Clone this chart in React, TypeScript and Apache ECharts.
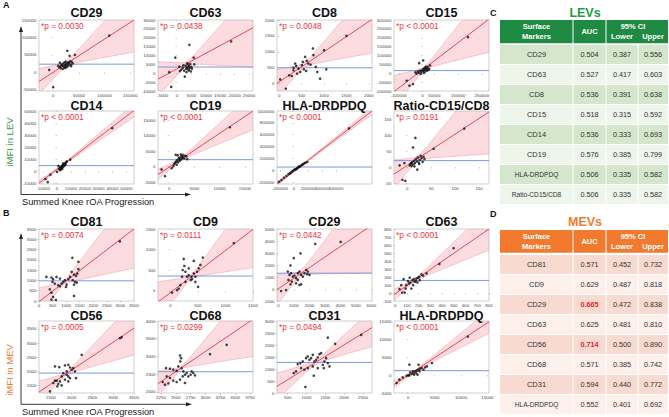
import { useEffect, useRef } from "react";
import * as echarts from "echarts";

const FONT = "'Liberation Sans', Arial, Helvetica, sans-serif";

// ---------- chart texts ----------
const chartTitles = ["CD29", "CD63", "CD8", "CD15", "CD14", "CD19", "HLA-DRDPDQ", "Ratio-CD15/CD8",
  "CD81", "CD9", "CD29", "CD63", "CD56", "CD68", "CD31", "HLA-DRDPDQ"];
const pLabels = ["*p = 0.0030", "*p = 0.0438", "*p = 0.0048", "*p < 0.0001", "*p < 0.0001", "*p < 0.0001", "*p < 0.0001", "*p = 0.0191",
  "*p = 0.0074", "*p = 0.0111", "*p = 0.0442", "*p < 0.0001", "*p = 0.0005", "*p = 0.0299", "*p = 0.0494", "*p < 0.0001"];

// ---------- axes ----------
const xRanges = [[-27500, 157000], [-6600, 26400], [-50, 2070], [-120000, 280000], [-13000, 55500], [-2200, 16600], [-243000, 1114000], [-27.7, 170.7],
  [0, 3500], [-225, 1500], [-90, 6040], [-10, 800], [1219, 3500], [2200, 3800], [216, 2740], [-2700, 15300]];
const yRanges = [[-52900, 150000], [-10000, 30000], [-230, 2000], [-100000, 300000], [-10500, 50000], [-5600, 17900], [-230000, 1000000], [-53, 175],
  [0, 3500], [-245, 1500], [-1000, 5000], [-100, 800], [1230, 3780], [1970, 4000], [0, 3000], [-5000, 15000]];
const xTickVals = [
  [0, 50000, 100000, 150000], [-5000, 0, 5000, 10000, 15000, 20000, 25000], [0, 500, 1000, 1500, 2000], [-100000, 0, 50000, 150000, 250000],
  [-10000, 0, 10000, 20000, 30000, 40000, 50000], [0, 5000, 10000, 15000], [-200000, 0, 200000, 400000, 600000, 800000], [0, 50, 100, 150],
  [0, 500, 1000, 1500, 2000, 2500, 3000, 3500], [0, 500, 1000, 1500], [0, 1000, 2000, 3000, 4000, 5000, 6000], [0, 100, 200, 300, 400, 500, 600, 700, 800],
  [1500, 2000, 2500, 3000, 3500], [2250, 2500, 2750, 3000, 3250, 3500, 3750], [500, 1000, 1500, 2000, 2500], [0, 5000, 10000, 15000]];
const yTickVals = [
  [-50000, 0, 50000, 100000, 150000], [-10000, -5000, 0, 5000, 10000, 15000, 20000, 25000, 30000], [0, 500, 1000, 1500, 2000],
  [-100000, -50000, 0, 50000, 100000, 150000, 200000, 250000, 300000], [-10000, 0, 10000, 20000, 30000, 40000, 50000], [-5000, 0, 5000, 10000, 15000],
  [-200000, 0, 200000, 400000, 600000, 800000, 1000000], [-50, 0, 50, 100, 150],
  [0, 500, 1000, 1500, 2000, 2500, 3000, 3500], [0, 500, 1000, 1500], [-1000, 0, 1000, 2000, 3000, 4000, 5000], [-100, 0, 100, 200, 300, 400, 500, 600, 700, 800],
  [1500, 2000, 2500, 3000, 3500], [2000, 2500, 3000, 3500, 4000], [0, 500, 1000, 1500, 2000, 2500, 3000], [-5000, 0, 5000, 10000, 15000]];

// ---------- fits: regression line end points, mean level, confidence band [centre x, min half width, growth] ----------
const fitLines = [[-27500, -25700, 157000, 150000], [-6600, -3300, 26400, 25600], [-50, 10, 2070, 2020], [-120000, -103000, 280000, 305000],
  [-13000, -9700, 55500, 50500], [-2200, -2550, 16600, 17870], [-243000, -235000, 1114000, 1000000], [-27.7, -22, 170.7, 172],
  [0, -30, 3500, 3500], [-225, -270, 1500, 1490], [-90, -50, 6040, 5330], [-10, -19, 800, 800],
  [1219, 1265, 3500, 3524], [2200, 2234, 3800, 4050], [216, 280, 2740, 2725], [-2700, -2670, 15300, 14800]];
const meanLevels = [23800, 3500, 500, 15000, 4700, 2230, 56000, 20, 980, 360, 1320, 157, 1935, 2570, 1274, 1200];
const bandParams = [[25000, 8000, 0.69], [3500, 1000, 0.97], [560, 80, 0.7], [10000, 10000, 0.69], [4000, 800, 0.107], [2000, 400, 0.41],
  [50000, 10000, 0.056], [22, 8, 0.88], [900, 90, 0.73], [370, 40, 0.82], [1400, 250, 0.86], [160, 15, 0.41],
  [1870, 50, 0.58], [2600, 40, 0.875], [1250, 90, 0.53], [1200, 200, 0.227]];

// ---------- scatter points ----------
const levCD29 = [[109000, 105700], [27500, 62000], [32000, 47600], [42300, 50500], [-7700, 7600], [0, -42000], [9600, 19000], [12000, 15000], [15000, 12000], [17000, 20000], [18000, 24000], [20000, 18000], [21000, 28000], [22000, 15000], [23000, 22000], [24000, 31000], [25000, 19000], [26000, 26000], [27000, 16000], [28000, 23000], [29000, 29000], [30000, 20000], [31000, 27000], [33000, 32000], [34000, 22000], [35000, 18000], [19000, 10000], [23500, 13000], [36000, 30000], [38000, 26000], [16000, 22000], [14000, 17000], [13000, 28000]];
const levCD63 = [[18800, 17900], [4300, 16000], [-580, 8800], [5800, 8800], [-2700, 600], [-2000, -7700], [2700, -1900], [1500, 2000], [2000, 3000], [2500, 1500], [3000, 4000], [3200, 2500], [3500, 3000], [3700, 5000], [3900, 3500], [4000, 2000], [4200, 4200], [4400, 3000], [4600, 5200], [4800, 1000], [5000, 3600], [5200, 2600], [2200, 4500], [1000, 1200], [3300, 600], [4100, 1600], [3600, 5600], [6000, 5000], [800, 3800]];
const levCD8 = [[1500, 1500], [22, 137], [148, -158], [318, 421], [356, 632], [430, 474], [467, 368], [504, 579], [526, 684], [578, 842], [615, 716], [650, 632], [752, 1105], [763, 895], [815, 526], [850, 368], [911, 158], [222, 263], [280, 240], [400, 316], [320, 500], [380, 560], [550, 450], [700, 600], [600, 400], [1000, 1050], [1050, 450]];
const levCD15 = [[191700, 203400], [-14000, 57000], [3000, 72000], [-66500, -42000], [-55000, -70000], [-40000, -61000], [32000, 44000], [-30000, 5000], [-25000, -2000], [-20000, 10000], [-15000, 3000], [-10000, 15000], [-5000, 8000], [0, 20000], [2000, 12000], [5000, 25000], [8000, 18000], [10000, 30000], [12000, 10000], [15000, 22000], [18000, 28000], [20000, 15000], [22000, 35000], [25000, 20000], [28000, 25000], [-8000, -4000], [6000, 2000], [14000, 38000]];
const levCD14 = [[39800, 35800], [-8300, -6400], [-4800, -2800], [-6700, -8900], [6000, 6900], [9500, 9700], [7100, 8300], [1500, 2000], [2000, 1000], [2500, 3000], [3000, 2500], [3300, 4000], [3600, 3500], [4000, 5000], [4200, 4300], [4500, 3800], [4800, 5200], [5000, 6000], [5500, 5500], [6200, 5800], [3000, 1500], [2200, 2800], [3800, 2200], [4400, 6500], [5300, 4600], [1000, 4500], [0, -500], [6500, 7500]];
const levCD19 = [[12040, 12660], [850, 100], [1000, 800], [1200, 1300], [1400, 1700], [1500, 600], [1600, 2100], [1800, 1400], [2000, 2500], [2100, 1900], [2200, 3000], [2400, 2300], [2500, 3400], [2600, 2800], [2800, 3100], [3000, 2600], [3200, 3500], [3400, 3300], [1300, 3800], [1700, 3600], [2300, 3900], [-800, -3100], [-1500, -900], [500, -500], [3600, 2400], [1900, 2700], [2700, 3800]];
const levHLA = [[785700, 706000], [-216000, -190000], [-180000, -160000], [-145000, -123000], [-110000, -95000], [-80000, -62000], [-50000, -39000], [-20000, -10000], [0, 5000], [21000, 17000], [40000, 30000], [60000, 50000], [80000, 62000], [93000, 73000], [110000, 90000], [130000, 105000], [150000, 120000], [164000, 129000], [-30000, -25000], [10000, 15000], [50000, 40000], [70000, 65000], [120000, 95000], [30000, 20000], [-60000, -55000], [190000, 140000]];
const levRatio = [[119, 120], [55, 57], [17, 91], [12, 61], [-16, 5], [-10, -40], [-4, -43], [21, -8], [5, 5], [7, 10], [9, 3], [10, 15], [12, 8], [14, 20], [16, 12], [18, 25], [20, 18], [22, 30], [24, 14], [26, 22], [28, 35], [30, 28], [32, 16], [34, 32], [36, 25], [15, 2], [8, 12], [25, 10], [-6, 12]];
const mevCD81 = [[2979, 2898], [1229, 2100], [1452, 1905], [1452, 1547], [1291, 244], [273, 1172], [459, 65], [459, 1140], [521, 1058], [496, 928], [583, 847], [707, 765], [770, 716], [832, 847], [894, 928], [956, 1009], [1080, 1058], [1142, 1172], [1204, 1416], [1291, 1286], [1365, 1221], [1415, 1335], [1291, 798], [1390, 895], [397, 570], [459, 407], [521, 195], [621, 49], [993, 684], [1241, 1009], [1328, 928], [645, 1172], [770, 1091], [1018, 798]];
const mevCD9 = [[1151, 1158], [242, 775], [254, 604], [224, 506], [273, 465], [333, 383], [382, 343], [424, 424], [454, 343], [485, 465], [515, 547], [545, 628], [588, 808], [424, 726], [369, 261], [273, 220], [182, 139], [121, 16], [151, 57], [30, -41], [503, 98], [303, 343], [394, 285], [212, 343], [454, 220], [333, 547]];
const mevCD29 = [[4017, 3922], [2376, 3754], [1425, 2969], [994, 2577], [778, 1961], [605, 1457], [713, 1176], [821, 1317], [929, 1036], [1037, 1120], [1145, 896], [1253, 1317], [1361, 1457], [1469, 1176], [1577, 1036], [1685, 1317], [1793, 1597], [1901, 1457], [2009, 1176], [1857, 1232], [648, 756], [778, 392], [1145, 476], [1361, 336], [1469, 392], [173, -168], [497, -84], [864, 616], [1253, 756]];
const mevCD63 = [[498, 560], [377, 363], [37, 48], [60, 6], [81, 6], [72, 174], [118, 119], [153, 98], [167, 140], [181, 182], [196, 191], [224, 233], [210, 161], [138, 56], [147, 161], [95, 98], [109, 149], [129, 132], [158, 174], [176, 149], [190, 132], [204, 203], [239, 216], [89, 56], [52, 98], [124, 191], [268, 245]];
const mevCD56 = [[3164, 3170], [3204, 3206], [2244, 2582], [1603, 2170], [1707, 2147], [1843, 2206], [1923, 2230], [1963, 2135], [1884, 1994], [2004, 2053], [2043, 2112], [2083, 1994], [2107, 1759], [1884, 1876], [1923, 1818], [1963, 1759], [1843, 1700], [1923, 1641], [1723, 1641], [1683, 1547], [1643, 1665], [1603, 1665], [1563, 1582], [1763, 1500], [1483, 1288], [1803, 1935], [1763, 1818], [1659, 1465]];
const mevCD68 = [[3076, 3065], [3357, 3327], [2571, 3028], [2587, 2953], [2576, 2860], [2542, 2720], [2599, 2673], [2335, 2673], [2402, 2654], [2458, 2626], [2514, 2598], [2627, 2579], [2683, 2533], [2767, 2579], [2711, 2439], [2655, 2486], [2750, 2486], [2795, 2533], [2346, 2439], [2402, 2393], [2458, 2318], [2514, 2280], [2279, 2280], [2318, 2206], [2374, 2243], [2571, 2346], [2616, 2439], [2655, 2252], [2823, 2467]];
const mevCD31 = [[2454, 2420], [1761, 2047], [1566, 2309], [971, 251], [1193, 721], [766, 1204], [837, 1246], [900, 1315], [988, 1453], [1033, 1522], [1077, 1384], [1122, 1453], [1166, 1591], [1210, 1315], [1255, 1384], [1299, 1481], [1344, 1619], [1388, 1660], [1432, 1177], [1477, 1315], [1521, 1453], [1566, 1246], [1610, 1108], [1459, 1039], [1299, 1039], [1166, 1108], [1033, 1039], [944, 970], [855, 1039], [722, 900], [660, 832]];
const mevHLA = [[11306, 10691], [4490, 3318], [1943, 2857], [-2197, -2212], [-1688, -1290], [-1051, -645], [-287, -184], [223, -92], [669, 276], [987, 553], [1306, 1014], [1624, 1198], [1943, 1475], [2261, 1751], [2580, 1935], [2898, 1475], [3217, 2120], [3535, 2396], [860, 1014], [1115, 92], [1497, 553], [1752, 92], [2134, 1014], [350, 737], [32, -92], [223, 2857]];
const pointSets = [levCD29, levCD63, levCD8, levCD15, levCD14, levCD19, levHLA, levRatio,
  mevCD81, mevCD9, mevCD29, mevCD63, mevCD56, mevCD68, mevCD31, mevHLA];

// ---------- tables ----------
const levMarkers = ["CD29", "CD63", "CD8", "CD15", "CD14", "CD19", "HLA-DRDPDQ", "Ratio-CD15/CD8"];
const levAUC = ["0.504", "0.527", "0.536", "0.518", "0.536", "0.576", "0.506", "0.506"];
const levLower = ["0.387", "0.417", "0.391", "0.315", "0.333", "0.385", "0.335", "0.335"];
const levUpper = ["0.556", "0.603", "0.638", "0.592", "0.693", "0.799", "0.582", "0.582"];
const mevMarkers = ["CD81", "CD9", "CD29", "CD63", "CD56", "CD68", "CD31", "HLA-DRDPDQ"];
const mevAUC = ["0.571", "0.629", "0.665", "0.625", "0.714", "0.571", "0.594", "0.552"];
const mevLower = ["0.452", "0.487", "0.472", "0.481", "0.500", "0.385", "0.440", "0.401"];
const mevUpper = ["0.732", "0.818", "0.838", "0.810", "0.890", "0.742", "0.772", "0.692"];
const mevHighlight = ["0.665", "0.714"];

function txt(x: number, y: number, text: string, font: string, fill: string, align = "center", extra: any = {}) {
  return {
    type: "text", x, y, z: 100, silent: true, ...extra,
    style: { text, font, fill, align, verticalAlign: "middle", textAlign: align, textVerticalAlign: "middle" },
  };
}

const plainNumber = (v: number) => String(Math.round(v * 1000) / 1000);

function buildOption() {
  const gridLefts = [39, 158, 277, 394];
  const gridTops = [20, 111, 229, 321];
  const gridHeights = [71, 73, 72, 72];
  const titleYs = [12.7, 105.5, 222.3, 315.7];
  const gridW = 95;
  const grid: any[] = [], xAxis: any[] = [], yAxis: any[] = [], series: any[] = [], graphic: any[] = [];

  for (let i = 0; i < 16; i++) {
    const row = Math.floor(i / 4), col = i % 4;
    const left = gridLefts[col], top = gridTops[row], h = gridHeights[row];
    grid.push({ left, top, width: gridW, height: h, show: true, borderColor: "#bcbcbc", borderWidth: 0.7, backgroundColor: "#ffffff" });
    const [xmin, xmax] = xRanges[i];
    const [ymin, ymax] = yRanges[i];
    const axisCommon = {
      type: "value", gridIndex: i,
      axisLine: { show: false }, splitLine: { show: false },
    };
    xAxis.push({
      ...axisCommon, min: xmin, max: xmax,
      axisTick: { show: true, customValues: xTickVals[i], length: 1.5, lineStyle: { color: "#999", width: 0.5 } },
      axisLabel: { customValues: xTickVals[i], fontSize: 4.4, color: "#444", margin: 2.5, fontFamily: FONT, formatter: plainNumber },
    });
    yAxis.push({
      ...axisCommon, min: ymin, max: ymax,
      axisTick: { show: true, customValues: yTickVals[i], length: 1.5, lineStyle: { color: "#999", width: 0.5 } },
      axisLabel: { customValues: yTickVals[i], fontSize: 4.4, color: "#444", margin: 2.5, fontFamily: FONT, formatter: plainNumber },
    });

    const [fx0, fy0, fx1, fy1] = fitLines[i];
    const b = (fy1 - fy0) / (fx1 - fx0);
    const a = fy0 - b * fx0;
    const [xc, h0, k] = bandParams[i];
    const clamp = (v: number) => Math.min(ymax, Math.max(ymin, v));
    series.push({
      type: "custom", xAxisIndex: i, yAxisIndex: i, silent: true, z: 1,
      data: [[xc, a + b * xc]],
      renderItem: (_p: any, api: any) => {
        const N = 80;
        const up: number[][] = [], lo: number[][] = [];
        const upSegs: number[][][] = [[]], loSegs: number[][][] = [[]];
        for (let j = 0; j <= N; j++) {
          const x = xmin + ((xmax - xmin) * j) / N;
          const yc = a + b * x;
          const hw = Math.sqrt(h0 * h0 + k * k * (x - xc) * (x - xc));
          const yu = yc + hw, yl = yc - hw;
          up.push(api.coord([x, clamp(yu)]));
          lo.push(api.coord([x, clamp(yl)]));
          if (yu <= ymax && yu >= ymin) upSegs[upSegs.length - 1].push(api.coord([x, yu]));
          else if (upSegs[upSegs.length - 1].length) upSegs.push([]);
          if (yl <= ymax && yl >= ymin) loSegs[loSegs.length - 1].push(api.coord([x, yl]));
          else if (loSegs[loSegs.length - 1].length) loSegs.push([]);
        }
        const children: any[] = [{
          type: "polygon", shape: { points: up.concat(lo.slice().reverse()) },
          style: { fill: "rgba(242,120,135,0.26)", stroke: "none" },
        }];
        for (const s of upSegs.concat(loSegs)) {
          if (s.length > 1) children.push({ type: "polyline", shape: { points: s }, style: { stroke: "#f2a3ab", lineWidth: 0.6, fill: "none" } });
        }
        return { type: "group", children };
      },
    });
    series.push({
      type: "line", xAxisIndex: i, yAxisIndex: i, silent: true, z: 2,
      data: [[xmin, meanLevels[i]], [xmax, meanLevels[i]]],
      symbol: "none", lineStyle: { color: "#7b99de", width: 1 },
    });
    series.push({
      type: "line", xAxisIndex: i, yAxisIndex: i, silent: true, z: 3,
      data: [[fx0, fy0], [fx1, fy1]],
      symbol: "none", lineStyle: { color: "#ec3441", width: 0.9 },
    });
    series.push({
      type: "scatter", xAxisIndex: i, yAxisIndex: i, silent: true, z: 4,
      data: pointSets[i], symbolSize: 2.6, itemStyle: { color: "#111111" },
    });

    graphic.push(txt(left + gridW / 2, titleYs[row], chartTitles[i], `bold 12.5px ${FONT}`, "#111"));
    graphic.push(txt(left + 2, top + 6.2, pLabels[i], `8.3px ${FONT}`, "#f0333d", "left"));
  }

  // panel letters
  graphic.push(txt(3, 5, "A", `bold 9px ${FONT}`, "#111", "left"));
  graphic.push(txt(3, 213, "B", `bold 9px ${FONT}`, "#111", "left"));
  graphic.push(txt(490, 12.7, "C", `bold 9px ${FONT}`, "#111", "left"));
  graphic.push(txt(490, 214, "D", `bold 9px ${FONT}`, "#111", "left"));

  // big axes arrows
  const arrow = (y0: number, yTop: number, xRight: number) => [
    { type: "polyline", z: 100, silent: true, shape: { points: [[21, yTop + 4], [21, y0], [xRight - 4, y0]] }, style: { stroke: "#222", lineWidth: 0.9, fill: "none" } },
    { type: "polygon", z: 100, silent: true, shape: { points: [[21, yTop], [19, yTop + 6], [23, yTop + 6]] }, style: { fill: "#222" } },
    { type: "polygon", z: 100, silent: true, shape: { points: [[xRight, y0], [xRight - 6, y0 - 2], [xRight - 6, y0 + 2]] }, style: { fill: "#222" } },
  ];
  graphic.push(...arrow(194.5, 26, 191));
  graphic.push(...arrow(404.3, 233, 192));
  graphic.push(txt(22, 201.5, "Summed Knee rOA Progression", `9.3px ${FONT}`, "#222", "left"));
  graphic.push(txt(22, 411.5, "Summed Knee rOA Progression", `9.3px ${FONT}`, "#222", "left"));
  graphic.push(txt(9, 142, "iMFI in LEV", `9.5px ${FONT}`, "#3a9d4c", "center", { rotation: Math.PI / 2 }));
  graphic.push(txt(9, 370, "iMFI in MEV", `9.5px ${FONT}`, "#f47a30", "center", { rotation: Math.PI / 2 }));

  // tables
  const colEdges = [500, 573, 606, 638, 668.5];
  const colCenters = [536.5, 589.5, 622, 653];
  const addTable = (titleY: number, title: string, titleColor: string, headTop: number, headBottom: number, rowTop: number,
    headColor: string, rowColors: string[], markers: string[], auc: string[], lower: string[], upper: string[], highlight: string[]) => {
    graphic.push(txt(585, titleY, title, `bold 12.5px ${FONT}`, titleColor));
    const hh = headBottom - headTop;
    const headCells = [[colEdges[0], colEdges[1]], [colEdges[1], colEdges[2]], [colEdges[2], colEdges[4]]];
    headCells.forEach(([x0, x1], ci) => {
      graphic.push({ type: "rect", z: 90, silent: true, shape: { x: x0 + (ci ? 0.5 : 0), y: headTop, width: x1 - x0 - (ci ? 0.5 : 0) - 0.5, height: hh }, style: { fill: headColor } });
    });
    const hb = `bold 7.5px ${FONT}`;
    graphic.push(txt(colCenters[0], headTop + 6.8, "Surface", hb, "#fff"));
    graphic.push(txt(colCenters[0], headTop + 16, "Markers", hb, "#fff"));
    graphic.push(txt(colCenters[1], headTop + 11.5, "AUC", hb, "#fff"));
    graphic.push(txt(633, headTop + 6.8, "95% CI", hb, "#fff"));
    graphic.push(txt(colCenters[2], headTop + 16, "Lower", hb, "#fff"));
    graphic.push(txt(colCenters[3], headTop + 16, "Upper", hb, "#fff"));
    for (let r = 0; r < markers.length; r++) {
      const y0 = rowTop + r * 20;
      for (let c = 0; c < 4; c++) {
        const x0 = colEdges[c] + (c ? 0.5 : 0);
        const x1 = colEdges[c + 1] - 0.5;
        graphic.push({ type: "rect", z: 90, silent: true, shape: { x: x0, y: y0, width: x1 - x0, height: 19 }, style: { fill: rowColors[r % 2] } });
      }
      const cy = y0 + 9.8;
      const m = markers[r];
      graphic.push(txt(colCenters[0], cy, m, `${m.length > 8 ? 6.6 : 7.5}px ${FONT}`, "#333"));
      const hi = highlight.indexOf(auc[r]) >= 0;
      graphic.push(txt(colCenters[1], cy, auc[r], `${hi ? "bold " : ""}7.3px ${FONT}`, hi ? "#e8242b" : "#333"));
      graphic.push(txt(colCenters[2], cy, lower[r], `7.3px ${FONT}`, "#333"));
      graphic.push(txt(colCenters[3], cy, upper[r], `7.3px ${FONT}`, "#333"));
    }
  };
  addTable(12.7, "LEVs", "#1f9a45", 20, 43.3, 45, "#1e8a42", ["#d4e7cd", "#eef5eb"], levMarkers, levAUC, levLower, levUpper, []);
  addTable(222.3, "MEVs", "#f47b2e", 230, 252.7, 255, "#f17a2e", ["#f9dad0", "#fdf0eb"], mevMarkers, mevAUC, mevLower, mevUpper, mevHighlight);

  return { animation: false, backgroundColor: "#ffffff", grid, xAxis, yAxis, series, graphic };
}

export default function App() {
  const ref = useRef<HTMLDivElement>(null);
  useEffect(() => {
    if (!ref.current) return;
    const chart = echarts.init(ref.current, undefined, { renderer: "svg" });
    chart.setOption(buildOption() as any);
    return () => chart.dispose();
  }, []);
  return <div ref={ref} style={{ position: "absolute", left: 0, top: 0, width: 669, height: 417 }} />;
}
